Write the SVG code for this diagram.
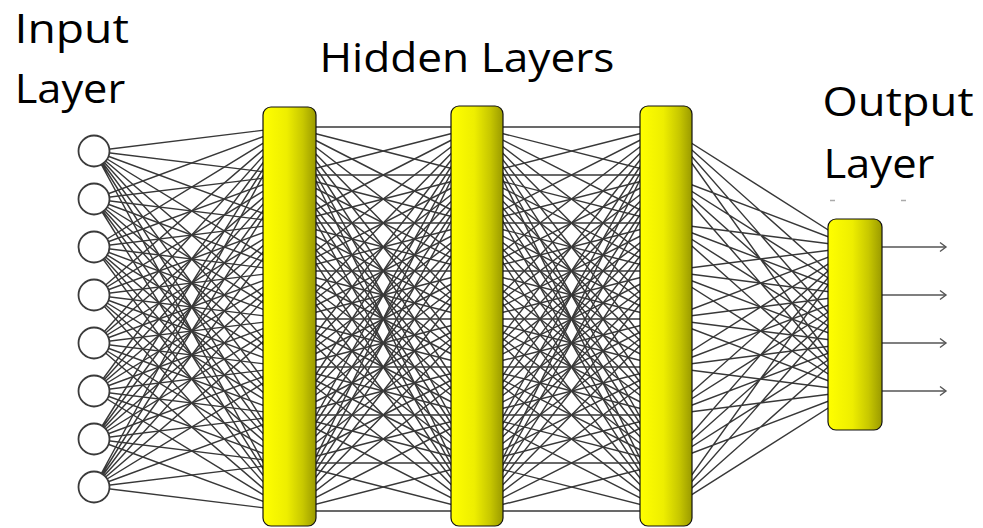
<svg xmlns="http://www.w3.org/2000/svg" width="983" height="528" viewBox="0 0 983 528">
<style>
.conn{stroke:#383838;stroke-width:1.45;fill:none}
.arr{stroke:#555;stroke-width:1.5;fill:none}
.inp{fill:#fff;stroke:#3a3a3a;stroke-width:1.8}
.bar{fill:url(#yg);stroke:#111;stroke-width:1.2}
.lbl{font-family:"Open Sans","Noto Sans",sans-serif;font-size:40px;fill:#000}
.dash{stroke:#aaa;stroke-width:1.5}
</style>
<defs>
<linearGradient id="yg" x1="0" y1="0" x2="1" y2="0">
<stop offset="0" stop-color="#ffff00"/>
<stop offset="0.45" stop-color="#eeee00"/>
<stop offset="0.75" stop-color="#c8c800"/>
<stop offset="1" stop-color="#9a9a00"/>
</linearGradient>
<marker id="ah" markerWidth="10" markerHeight="12" refX="7" refY="6" orient="auto" markerUnits="userSpaceOnUse">
<path d="M1,1.5 L7,6 L1,10.5" fill="none" stroke="#555" stroke-width="1.4"/>
</marker>
</defs>
<rect width="983" height="528" fill="#fff"/>
<g id="connectors">
<path class="conn" d="M94 151L289.5 127M94 151L289.5 175M94 151L289.5 223M94 151L289.5 271M94 151L289.5 319M94 151L289.5 367M94 151L289.5 415M94 151L289.5 463M94 151L289.5 511"/>
<path class="conn" d="M94 199L289.5 127M94 199L289.5 175M94 199L289.5 223M94 199L289.5 271M94 199L289.5 319M94 199L289.5 367M94 199L289.5 415M94 199L289.5 463M94 199L289.5 511"/>
<path class="conn" d="M94 247L289.5 127M94 247L289.5 175M94 247L289.5 223M94 247L289.5 271M94 247L289.5 319M94 247L289.5 367M94 247L289.5 415M94 247L289.5 463M94 247L289.5 511"/>
<path class="conn" d="M94 295L289.5 127M94 295L289.5 175M94 295L289.5 223M94 295L289.5 271M94 295L289.5 319M94 295L289.5 367M94 295L289.5 415M94 295L289.5 463M94 295L289.5 511"/>
<path class="conn" d="M94 343L289.5 127M94 343L289.5 175M94 343L289.5 223M94 343L289.5 271M94 343L289.5 319M94 343L289.5 367M94 343L289.5 415M94 343L289.5 463M94 343L289.5 511"/>
<path class="conn" d="M94 391L289.5 127M94 391L289.5 175M94 391L289.5 223M94 391L289.5 271M94 391L289.5 319M94 391L289.5 367M94 391L289.5 415M94 391L289.5 463M94 391L289.5 511"/>
<path class="conn" d="M94 439L289.5 127M94 439L289.5 175M94 439L289.5 223M94 439L289.5 271M94 439L289.5 319M94 439L289.5 367M94 439L289.5 415M94 439L289.5 463M94 439L289.5 511"/>
<path class="conn" d="M94 487L289.5 127M94 487L289.5 175M94 487L289.5 223M94 487L289.5 271M94 487L289.5 319M94 487L289.5 367M94 487L289.5 415M94 487L289.5 463M94 487L289.5 511"/>
<path class="conn" d="M289.5 127L477 127M289.5 127L477 175M289.5 127L477 223M289.5 127L477 271M289.5 127L477 319M289.5 127L477 367M289.5 127L477 415M289.5 127L477 463M289.5 127L477 511"/>
<path class="conn" d="M289.5 175L477 127M289.5 175L477 175M289.5 175L477 223M289.5 175L477 271M289.5 175L477 319M289.5 175L477 367M289.5 175L477 415M289.5 175L477 463M289.5 175L477 511"/>
<path class="conn" d="M289.5 223L477 127M289.5 223L477 175M289.5 223L477 223M289.5 223L477 271M289.5 223L477 319M289.5 223L477 367M289.5 223L477 415M289.5 223L477 463M289.5 223L477 511"/>
<path class="conn" d="M289.5 271L477 127M289.5 271L477 175M289.5 271L477 223M289.5 271L477 271M289.5 271L477 319M289.5 271L477 367M289.5 271L477 415M289.5 271L477 463M289.5 271L477 511"/>
<path class="conn" d="M289.5 319L477 127M289.5 319L477 175M289.5 319L477 223M289.5 319L477 271M289.5 319L477 319M289.5 319L477 367M289.5 319L477 415M289.5 319L477 463M289.5 319L477 511"/>
<path class="conn" d="M289.5 367L477 127M289.5 367L477 175M289.5 367L477 223M289.5 367L477 271M289.5 367L477 319M289.5 367L477 367M289.5 367L477 415M289.5 367L477 463M289.5 367L477 511"/>
<path class="conn" d="M289.5 415L477 127M289.5 415L477 175M289.5 415L477 223M289.5 415L477 271M289.5 415L477 319M289.5 415L477 367M289.5 415L477 415M289.5 415L477 463M289.5 415L477 511"/>
<path class="conn" d="M289.5 463L477 127M289.5 463L477 175M289.5 463L477 223M289.5 463L477 271M289.5 463L477 319M289.5 463L477 367M289.5 463L477 415M289.5 463L477 463M289.5 463L477 511"/>
<path class="conn" d="M289.5 511L477 127M289.5 511L477 175M289.5 511L477 223M289.5 511L477 271M289.5 511L477 319M289.5 511L477 367M289.5 511L477 415M289.5 511L477 463M289.5 511L477 511"/>
<path class="conn" d="M477 127L666 127M477 127L666 175M477 127L666 223M477 127L666 271M477 127L666 319M477 127L666 367M477 127L666 415M477 127L666 463M477 127L666 511"/>
<path class="conn" d="M477 175L666 127M477 175L666 175M477 175L666 223M477 175L666 271M477 175L666 319M477 175L666 367M477 175L666 415M477 175L666 463M477 175L666 511"/>
<path class="conn" d="M477 223L666 127M477 223L666 175M477 223L666 223M477 223L666 271M477 223L666 319M477 223L666 367M477 223L666 415M477 223L666 463M477 223L666 511"/>
<path class="conn" d="M477 271L666 127M477 271L666 175M477 271L666 223M477 271L666 271M477 271L666 319M477 271L666 367M477 271L666 415M477 271L666 463M477 271L666 511"/>
<path class="conn" d="M477 319L666 127M477 319L666 175M477 319L666 223M477 319L666 271M477 319L666 319M477 319L666 367M477 319L666 415M477 319L666 463M477 319L666 511"/>
<path class="conn" d="M477 367L666 127M477 367L666 175M477 367L666 223M477 367L666 271M477 367L666 319M477 367L666 367M477 367L666 415M477 367L666 463M477 367L666 511"/>
<path class="conn" d="M477 415L666 127M477 415L666 175M477 415L666 223M477 415L666 271M477 415L666 319M477 415L666 367M477 415L666 415M477 415L666 463M477 415L666 511"/>
<path class="conn" d="M477 463L666 127M477 463L666 175M477 463L666 223M477 463L666 271M477 463L666 319M477 463L666 367M477 463L666 415M477 463L666 463M477 463L666 511"/>
<path class="conn" d="M477 511L666 127M477 511L666 175M477 511L666 223M477 511L666 271M477 511L666 319M477 511L666 367M477 511L666 415M477 511L666 463M477 511L666 511"/>
<path class="conn" d="M666 127L855 247M666 127L855 295M666 127L855 343M666 127L855 391M666 175L855 247M666 175L855 295M666 175L855 343M666 175L855 391M666 223L855 247M666 223L855 295M666 223L855 343M666 223L855 391"/>
<path class="conn" d="M666 271L855 247M666 271L855 295M666 271L855 343M666 271L855 391M666 319L855 247M666 319L855 295M666 319L855 343M666 319L855 391M666 367L855 247M666 367L855 295M666 367L855 343M666 367L855 391"/>
<path class="conn" d="M666 415L855 247M666 415L855 295M666 415L855 343M666 415L855 391M666 463L855 247M666 463L855 295M666 463L855 343M666 463L855 391M666 511L855 247M666 511L855 295M666 511L855 343M666 511L855 391"/>
<path class="arr" d="M882 247H946" marker-end="url(#ah)"/>
<path class="arr" d="M882 295H946" marker-end="url(#ah)"/>
<path class="arr" d="M882 343H946" marker-end="url(#ah)"/>
<path class="arr" d="M882 391H946" marker-end="url(#ah)"/>
</g>
<g id="input-layer">
<g id="in1"><circle class="inp" cx="94" cy="151" r="15.5"/></g>
<g id="in2"><circle class="inp" cx="94" cy="199" r="15.5"/></g>
<g id="in3"><circle class="inp" cx="94" cy="247" r="15.5"/></g>
<g id="in4"><circle class="inp" cx="94" cy="295" r="15.5"/></g>
<g id="in5"><circle class="inp" cx="94" cy="343" r="15.5"/></g>
<g id="in6"><circle class="inp" cx="94" cy="391" r="15.5"/></g>
<g id="in7"><circle class="inp" cx="94" cy="439" r="15.5"/></g>
<g id="in8"><circle class="inp" cx="94" cy="487" r="15.5"/></g>
</g>
<g id="hidden1"><rect class="bar" x="263" y="107" width="53" height="419" rx="8"/></g>
<g id="hidden2"><rect class="bar" x="451" y="106" width="52" height="420" rx="8"/></g>
<g id="hidden3"><rect class="bar" x="640" y="106" width="52" height="420" rx="8"/></g>
<g id="output"><rect class="bar" x="828" y="219" width="54" height="211" rx="8"/></g>
<g id="labels">
<text class="lbl" x="14.5" y="43" textLength="114.5" lengthAdjust="spacingAndGlyphs">Input</text>
<text class="lbl" x="14.7" y="103" textLength="110.5" lengthAdjust="spacingAndGlyphs">Layer</text>
<text class="lbl" x="319.4" y="71.7" textLength="295" lengthAdjust="spacingAndGlyphs">Hidden Layers</text>
<text class="lbl" x="822.6" y="116" textLength="151" lengthAdjust="spacingAndGlyphs">Output</text>
<text class="lbl" x="823.4" y="178" textLength="111" lengthAdjust="spacingAndGlyphs">Layer</text>
</g>
<g id="marks">
<path class="dash" d="M830 200.5H835M901 200.5H906"/>
</g>
</svg>
